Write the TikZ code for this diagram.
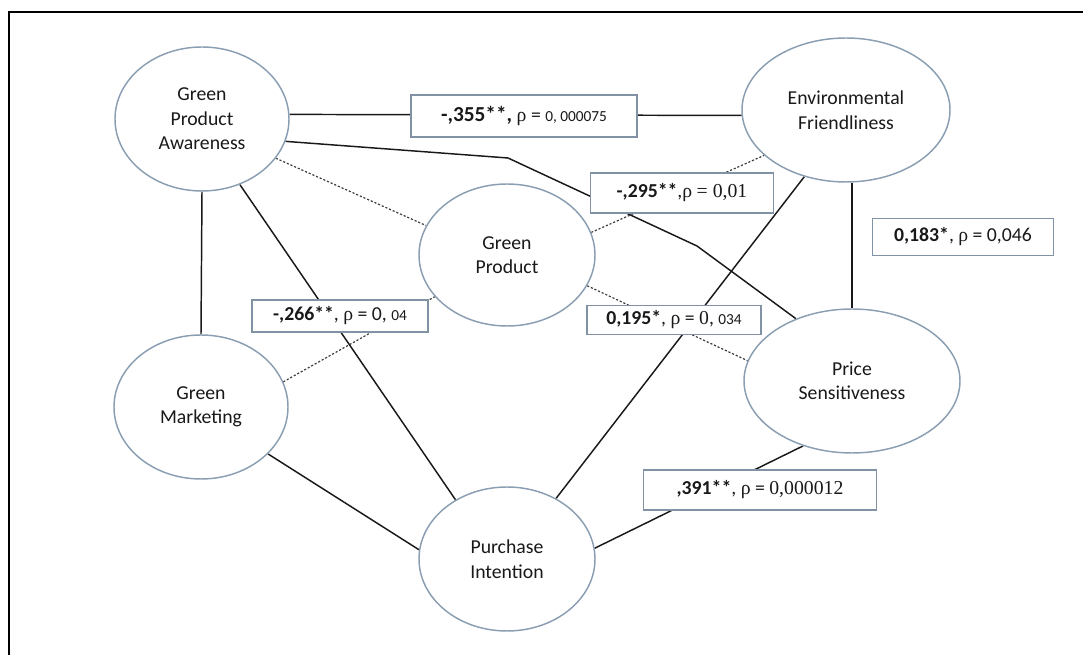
\documentclass[tikz,border=0pt]{standalone}
\usepackage{fontspec}
\setmainfont{Carlito}
\newfontfamily\tms{Liberation Serif}
\usetikzlibrary{shapes.geometric,backgrounds}
\definecolor{ellc}{RGB}{138,158,178}
\definecolor{boxc}{RGB}{128,146,164}
\definecolor{lnc}{RGB}{25,25,25}
\definecolor{txt}{RGB}{25,25,25}
\newcommand\rh{{\tms ρ}}
\newcommand\smallnum{\fontsize{11.5}{13}\selectfont}
\begin{document}
\begin{tikzpicture}[x=0.75pt,y=-0.75pt,
  conc/.style={ellipse, draw=ellc, line width=1.1pt, fill=white, inner sep=0pt, align=center,
    font=\fontsize{14.8}{18.4}\selectfont, text=txt},
  sz/.style 2 args={minimum width=#1*0.75pt, minimum height=#2*0.75pt},
  coef/.style={rectangle, draw=boxc, line width=1.1pt, fill=white, inner sep=0pt,
    font=\fontsize{14.8}{17}\selectfont, text=txt},
  link/.style={draw=lnc, line width=1.1pt},
  dlink/.style={draw=lnc!85, line width=0.9pt, dash pattern=on 1.6pt off 1.4pt},
  frame/.style={draw=black, line width=2.2pt}
]
\useasboundingbox (0,0) rectangle (1083,655);
\draw[frame] (9,655) -- (9,12) -- (1083,12);

% concepts
\node[conc, sz={174}{144}] (gpa) at (202,119) {Green\\Product\\Awareness};
\node[conc, sz={208}{144}] (ef)  at (846,110) {Environmental\\Friendliness};
\node[conc, sz={176}{142}] (gp)  at (507,255) {Green\\Product};
\node[conc, sz={174}{144}] (gm)  at (201,407) {Green\\Marketing};
\node[conc, sz={216}{144}] (ps)  at (852,381) {Price\\Sensitiveness};
\node[conc, sz={176}{144}] (pi)  at (507,559) {Purchase\\Intention};

% coefficient boxes
\node[coef, sz={226}{42}] (b355) at (524,116) {{\fontsize{16}{18}\selectfont\textbf{-,355**,}} \rh{} = {\smallnum 0, 000075}};
\node[coef, sz={183}{40}] (b295) at (682,193) {\textbf{-,295**},\rh{} {\tms = 0,01}};
\node[coef, sz={181}{37}] (b183) at (963,237) {\textbf{0,183*}, \rh{} = 0,046};
\node[coef, sz={176}{32}] (b266) at (340,316) {\textbf{-,266**}, \rh{} = 0, {\smallnum 04}};
\node[coef, sz={174}{29}] (b195) at (674,320) {\textbf{0,195*}, \rh{} = {\tms 0}, {\smallnum 034}};
\node[coef, sz={233}{40}] (b391) at (760,490) {\textbf{,391**}, \rh{} = {\tms 0,000012}};

\coordinate (k1) at (508,158);
\coordinate (k2) at (697,246);

\begin{scope}[on background layer]
  \draw[link] (gpa.3) -- (ef.183);
  \draw[link] (gpa.-15) -- (k1) -- (k2) -- (ps.132);
  \draw[dlink] (gpa.-28) -- (gp.160);
  \draw[link] (gpa.south) -- (gm.north);
  \draw[link] (gpa.-60) -- (pi.131);
  \draw[dlink] (gp.15) -- (ef.209);
  \draw[dlink] (gp.-21) -- (ps.169);
  \draw[dlink] (gm.17) -- (gp.210);
  \draw[link] (gm.-35) -- (pi.174);
  \draw[link] (pi.51) -- (ef.238);
  \draw[link] (pi.7) -- (ps.233);
  \draw[link] (ps.north |- ef.south) -- (ps.north);
\end{scope}
\end{tikzpicture}
\end{document}
